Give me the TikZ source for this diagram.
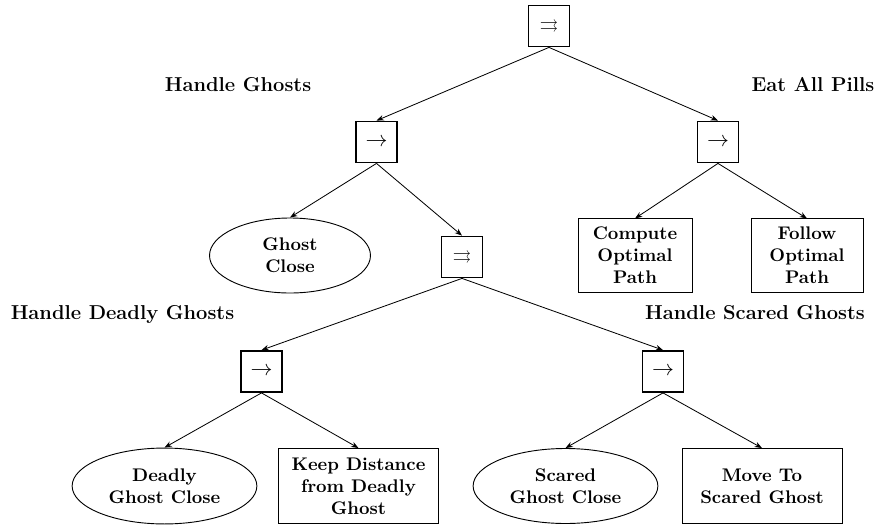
\documentclass[tikz,border=0pt]{standalone}
\usepackage{amssymb}
\usetikzlibrary{shapes.geometric,arrows.meta}
\begin{document}
\begin{tikzpicture}[x=0.5467pt,y=-0.5467pt,
  ctrl/.style={draw,line width=0.9pt,minimum width=22.5pt,minimum height=22.5pt,inner sep=0pt},
  leafbox/.style={draw,line width=0.5pt,align=center,font=\bfseries,inner sep=2pt},
  cond/.style={draw,ellipse,line width=0.5pt,align=center,font=\bfseries,inner sep=0pt},
  lbl/.style={font=\fontsize{11}{13}\selectfont\bfseries,inner sep=0pt,anchor=base},
  edge/.style={-{Stealth[length=4pt,width=3pt]},line width=0.45pt}]
\useasboundingbox (0,0) rectangle (878,527);
% control nodes
\node[ctrl] (root) at (549,26) {$\rightrightarrows$};
\node[ctrl] (hg) at (376.5,142) {\large$\rightarrow$};
\node[ctrl] (ep) at (718,142) {\large$\rightarrow$};
\node[ctrl] (par2) at (462,257) {$\rightrightarrows$};
\node[ctrl] (hd) at (261.5,371.5) {\large$\rightarrow$};
\node[ctrl] (hs) at (663,371.5) {\large$\rightarrow$};
% leaves
\node[cond,minimum width=88pt,minimum height=41pt] (gc) at (290,255.5) {Ghost\\Close};
\node[leafbox,minimum width=62.3pt,minimum height=40pt] (cop) at (635,255.5) {Compute\\Optimal\\Path};
\node[leafbox,minimum width=61.2pt,minimum height=40pt] (fop) at (807,255.5) {Follow\\Optimal\\Path};
\node[cond,minimum width=101pt,minimum height=41.5pt] (dgc) at (164.5,486) {Deadly\\Ghost Close};
\node[leafbox,minimum width=87pt,minimum height=41pt] (kd) at (358.5,486) {Keep Distance\\from Deadly\\Ghost};
\node[cond,minimum width=101pt,minimum height=41pt] (sgc) at (565.5,486) {Scared\\Ghost Close};
\node[leafbox,minimum width=87.5pt,minimum height=41pt] (mt) at (762,486) {Move To\\Scared Ghost};
% labels
\node[lbl] (lhg) at (238,91) {Handle Ghosts};
\node[lbl] (lep) at (813,91) {Eat All Pills};
\node[lbl] (lhd) at (122.5,319) {Handle Deadly Ghosts};
\node[lbl] (lhs) at (755,319) {Handle Scared Ghosts};
% edges
\draw[edge] (root.south) -- (hg.north);
\draw[edge] (root.south) -- (ep.north);
\draw[edge] (hg.south) -- (gc.north);
\draw[edge] (hg.south) -- (par2.north);
\draw[edge] (ep.south) -- (cop.north);
\draw[edge] (ep.south) -- (fop.north);
\draw[edge] (par2.south) -- (hd.north);
\draw[edge] (par2.south) -- (hs.north);
\draw[edge] (hd.south) -- (dgc.north);
\draw[edge] (hd.south) -- (kd.north);
\draw[edge] (hs.south) -- (sgc.north);
\draw[edge] (hs.south) -- (mt.north);
\end{tikzpicture}
\end{document}
